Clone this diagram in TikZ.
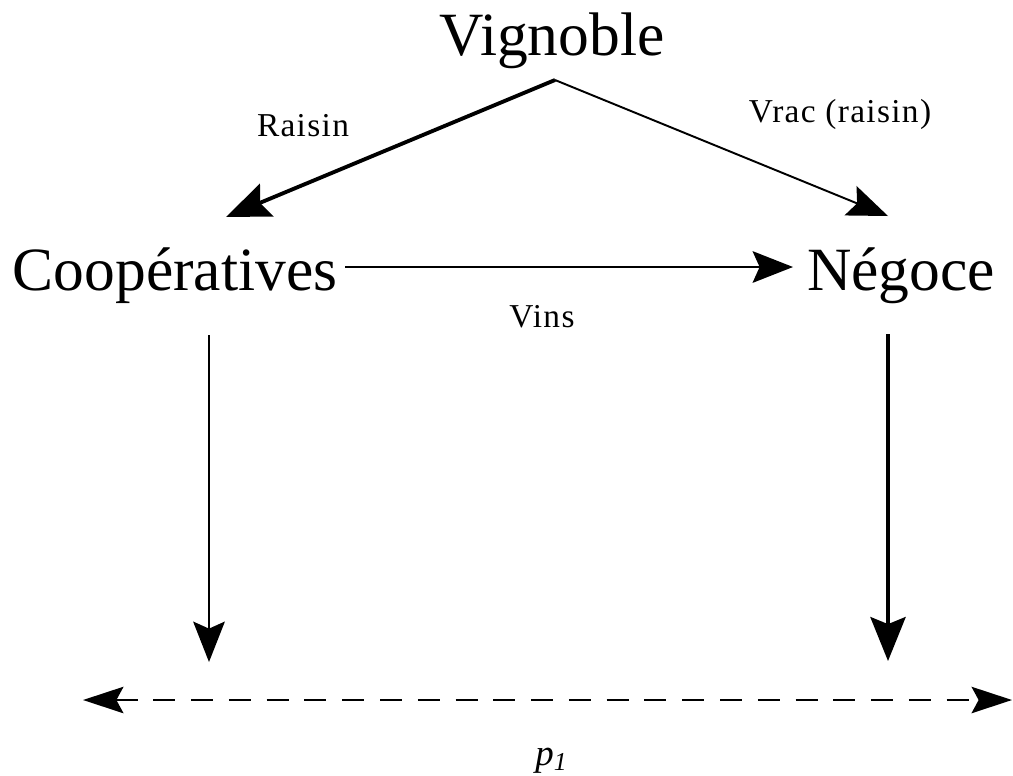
\documentclass[tikz,border=0pt]{standalone}
\usepackage{fontspec}
\setmainfont{Liberation Serif}
\newfontfamily\spacedserif[LetterSpace=4]{Liberation Serif}
\usetikzlibrary{arrows.meta,positioning}

\tikzset{
  big/.style={font=\fontsize{35}{40}\selectfont, inner sep=0pt, anchor=base},
  lbl/.style={font=\spacedserif\fontsize{19}{22}\selectfont, inner sep=0pt, anchor=base},
  thinflow/.style={line width=1.1pt, -{Stealth[length=23pt, width=18pt, inset=4pt]}},
  thickflow/.style={line width=2.2pt, -{Stealth[length=25pt, width=20pt, inset=4pt]}},
  priceline/.style={line width=1.4pt, dash pattern=on 12.5pt off 9pt,
    {Stealth[length=23pt, width=15pt, inset=4pt]}-{Stealth[length=23pt, width=15pt, inset=4pt]}}
}

\begin{document}
\begin{tikzpicture}[x=0.02cm, y=-0.02cm]
\useasboundingbox (0,0) rectangle (1013,775);

% Actors
\node[big] (vign) at (552,55) {Vignoble};
\node[big] (coop) at (175,290) {Coopératives};
\node[big] (nego) at (901,290) {Négoce};

% End points
\coordinate (apex) at (555,80);
\coordinate (coopin) at (226,217);
\coordinate (negoin) at (888,216);
\coordinate (vinsout) at (345,267);
\coordinate (vinsin) at (793,267);
\coordinate (coopdown) at (209,335);
\coordinate (coopmkt) at (209,662);
\coordinate (negodown) at (888,334);
\coordinate (negomkt) at (888,661);
\coordinate (pleft) at (83,700);
\coordinate (pright) at (1012,700);

% Flows
\draw[thickflow] (apex) -- (coopin);
\draw[thinflow] (apex) -- (negoin);
\draw[thinflow] (vinsout) -- (vinsin);
\draw[thinflow] (coopdown) -- (coopmkt);
\draw[thickflow] (negodown) -- (negomkt);
\draw[priceline] (pleft) -- (pright);

% Labels
\node[lbl] (raisin) at (303,136) {Raisin};
\node[lbl] (vrac) at (840,122) {Vrac (raisin)};
\node[lbl] (vins) at (542,327) {Vins};
\node[lbl, anchor=base west, font=\fontsize{21}{24}\selectfont\itshape] (price) at (535,765) {p\textsubscript{1}};

\end{tikzpicture}
\end{document}
